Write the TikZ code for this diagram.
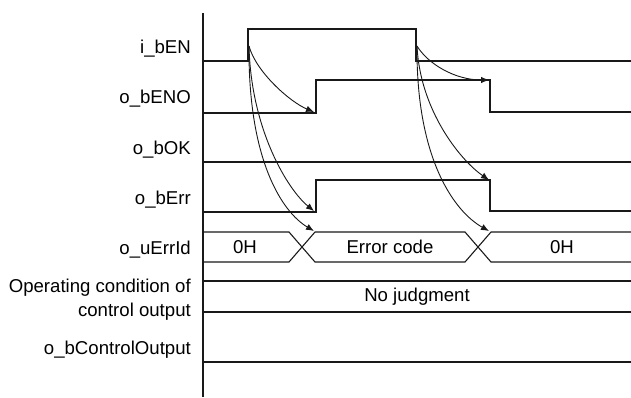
\documentclass[tikz,border=0pt]{standalone}
\usepackage{fontspec}
\setmainfont{Liberation Sans}
\usetikzlibrary{arrows.meta}
\begin{document}
\begin{tikzpicture}[x=1pt,y=-1pt,
  sig/.style={line width=1.1pt,draw=black!90},
  cause/.style={line width=0.9pt,draw=black!90,-{Latex[length=8pt,width=6.5pt]}},
  lbl/.style={anchor=east,inner sep=0pt,align=right,font=\fontsize{18.6}{24}\selectfont},
  txt/.style={inner sep=0pt,font=\fontsize{18.6}{24}\selectfont}]
\useasboundingbox (0,0) rectangle (631,397);
% axis
\draw[sig] (203,13) -- (203,397);
% labels
\node[lbl] (l1) at (191,49) {i\_bEN};
\node[lbl] (l2) at (191,99) {o\_bENO};
\node[lbl] (l3) at (191,150) {o\_bOK};
\node[lbl] (l4) at (191,200) {o\_bErr};
\node[lbl] (l5) at (191,250) {o\_uErrId};
\node[lbl] (l6) at (191,300) {Operating condition of\\control output};
\node[lbl] (l7) at (191,350) {o\_bControlOutput};
% i_bEN
\draw[sig] (203,61) -- (248,61) -- (248,29) -- (416,29) -- (416,61) -- (631,61);
% o_bENO
\draw[sig] (203,113) -- (316,113) -- (316,80) -- (490,80) -- (490,112) -- (631,112);
% o_bOK
\draw[sig] (203,162) -- (631,162);
% o_bErr
\draw[sig] (203,212) -- (316,212) -- (316,180) -- (490,180) -- (490,211) -- (631,211);
% o_uErrId bus
\draw[sig] (203,232) -- (289,232) -- (315,262) -- (465,262) -- (491,232) -- (631,232);
\draw[sig] (203,262) -- (289,262) -- (315,232) -- (465,232) -- (491,262) -- (631,262);
\node[txt] (v1) at (245,247) {0H};
\node[txt] (v2) at (390,247) {Error code};
\node[txt] (v3) at (562,247) {0H};
% operating condition
\draw[sig] (203,281) -- (631,281);
\draw[sig] (203,312) -- (631,312);
\node[txt] (nj) at (417,297) {No judgment};
% control output
\draw[sig] (203,362) -- (631,362);
% cause arrows
\coordinate (s1) at (249,46);
\coordinate (s2) at (417,46);
\coordinate (a1) at (314,112);
\coordinate (a2) at (314,211);
\coordinate (a3) at (314,231);
\coordinate (b1) at (489,80);
\coordinate (b2) at (489,180);
\coordinate (b3) at (489,231);
\draw[cause] (s1) .. controls (256,72) and (290,102) .. (a1);
\draw[cause] (s1) .. controls (251,130) and (288,190) .. (a2);
\draw[cause] (s1) .. controls (248,160) and (282,212) .. (a3);
\draw[cause] (s2) .. controls (428,64) and (455,80) .. (b1);
\draw[cause] (s2) .. controls (420,110) and (460,160) .. (b2);
\draw[cause] (s2) .. controls (416,160) and (455,212) .. (b3);
\end{tikzpicture}
\end{document}
